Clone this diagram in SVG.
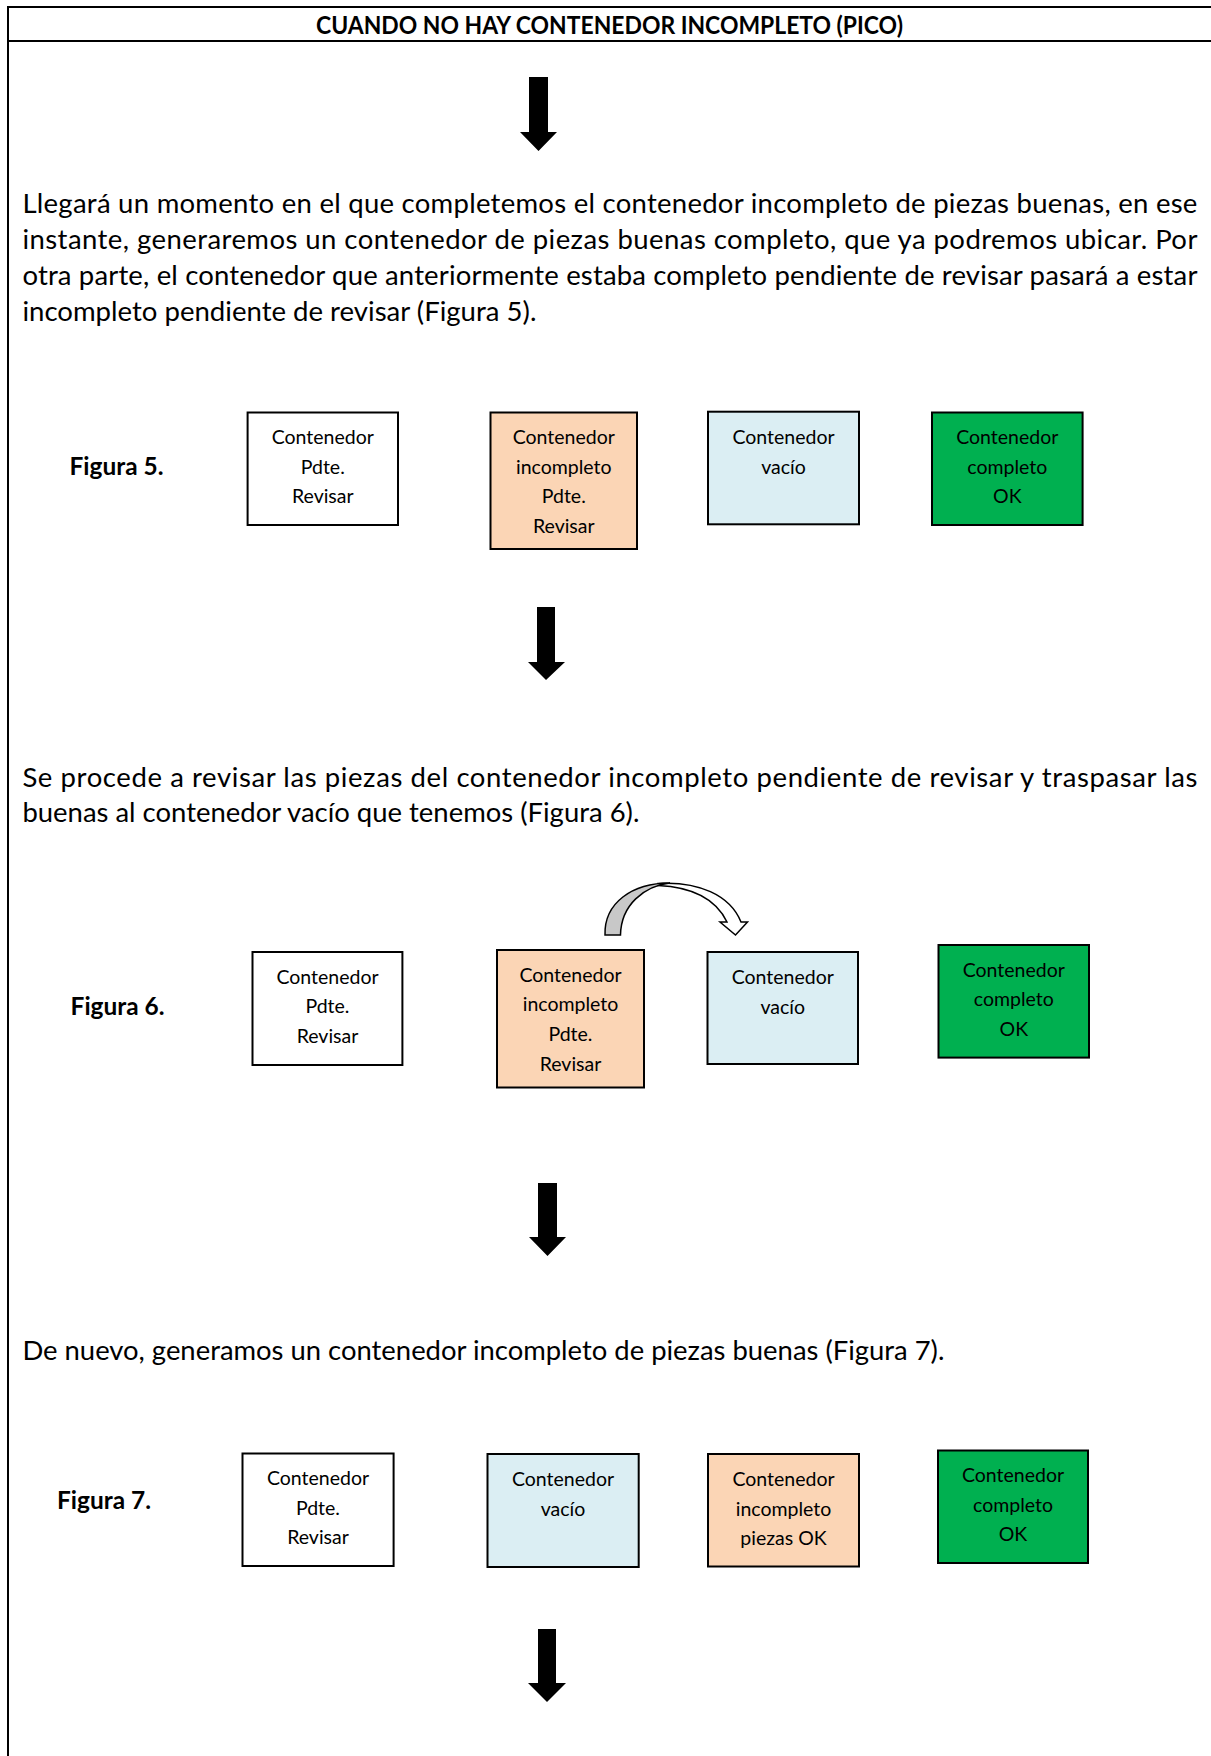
<svg xmlns="http://www.w3.org/2000/svg" width="1211" height="1756" viewBox="0 0 1211 1756">
  <style>
    .frame { stroke: #000; stroke-width: 2; fill: none; }
    .title { font-family: Lato, 'Liberation Sans', sans-serif; font-weight: bold; font-size: 25px; fill: #000; }
    .body { font-family: Lato, 'Liberation Sans', sans-serif; font-size: 27.5px; fill: #000; }
    .fig { font-family: Lato, 'Liberation Sans', sans-serif; font-weight: bold; font-size: 25px; fill: #000; }
    .box { stroke: #000; stroke-width: 2; }
    .lbl { font-family: Lato, 'Liberation Sans', sans-serif; font-size: 19.5px; fill: #000; text-anchor: middle; }
    .white { fill: #ffffff; }
    .peach { fill: #fbd5b5; }
    .blue { fill: #dbeef3; }
    .green { fill: #00b050; }
    .blk { fill: #000; }
  </style>

  <!-- page frame and header -->
  <g id="frame">
    <line class="frame" x1="8" y1="7" x2="1211" y2="7"/>
    <line class="frame" x1="8" y1="41" x2="1211" y2="41"/>
    <line class="frame" x1="8" y1="6" x2="8" y2="1756"/>
    <text class="title" x="316" y="34" textLength="587" lengthAdjust="spacingAndGlyphs">CUANDO NO HAY CONTENEDOR INCOMPLETO (PICO)</text>
  </g>

  <!-- explanatory paragraphs -->
  <g id="text-1" class="body">
    <text x="22.4" y="213" textLength="1175" lengthAdjust="spacing">Llegará un momento en el que completemos el contenedor incompleto de piezas buenas, en ese</text>
    <text x="22.4" y="248.8" textLength="1175" lengthAdjust="spacing">instante, generaremos un contenedor de piezas buenas completo, que ya podremos ubicar. Por</text>
    <text x="22.4" y="284.6" textLength="1175" lengthAdjust="spacing">otra parte, el contenedor que anteriormente estaba completo pendiente de revisar pasará a estar</text>
    <text x="22.4" y="320.5" textLength="514" lengthAdjust="spacingAndGlyphs">incompleto pendiente de revisar (Figura 5).</text>
  </g>
  <g id="text-2" class="body">
    <text x="22.4" y="786.5" textLength="1175" lengthAdjust="spacing">Se procede a revisar las piezas del contenedor incompleto pendiente de revisar y traspasar las</text>
    <text x="22.4" y="822.3" textLength="617" lengthAdjust="spacingAndGlyphs">buenas al contenedor vacío que tenemos (Figura 6).</text>
  </g>
  <g id="text-3" class="body">
    <text x="22.4" y="1360.2" textLength="922" lengthAdjust="spacingAndGlyphs">De nuevo, generamos un contenedor incompleto de piezas buenas (Figura 7).</text>
  </g>

  <!-- Figura 5 -->
  <g id="fig5-label"><text class="fig" x="69.5" y="475" textLength="94" lengthAdjust="spacingAndGlyphs">Figura 5.</text></g>
  <g id="fig5-pdte">
    <rect class="box white" x="247.6" y="412.5" width="150.4" height="112.5"/>
    <text class="lbl" x="322.8" y="444">Contenedor</text>
    <text class="lbl" x="322.8" y="473.7">Pdte.</text>
    <text class="lbl" x="322.8" y="503.4">Revisar</text>
  </g>
  <g id="fig5-incompleto">
    <rect class="box peach" x="490.5" y="412.5" width="146.5" height="136.5"/>
    <text class="lbl" x="563.8" y="444">Contenedor</text>
    <text class="lbl" x="563.8" y="473.7">incompleto</text>
    <text class="lbl" x="563.8" y="503.4">Pdte.</text>
    <text class="lbl" x="563.8" y="533">Revisar</text>
  </g>
  <g id="fig5-vacio">
    <rect class="box blue" x="708" y="411.7" width="151" height="112.6"/>
    <text class="lbl" x="783.5" y="444">Contenedor</text>
    <text class="lbl" x="783.5" y="473.7">vacío</text>
  </g>
  <g id="fig5-ok">
    <rect class="box green" x="932" y="412.5" width="150.6" height="112.5"/>
    <text class="lbl" x="1007.3" y="444">Contenedor</text>
    <text class="lbl" x="1007.3" y="473.7">completo</text>
    <text class="lbl" x="1007.3" y="503.4">OK</text>
  </g>

  <!-- Figura 6 -->
  <g id="fig6-label"><text class="fig" x="70.6" y="1015" textLength="94" lengthAdjust="spacingAndGlyphs">Figura 6.</text></g>
  <g id="fig6-pdte">
    <rect class="box white" x="252.5" y="952" width="149.9" height="113"/>
    <text class="lbl" x="327.5" y="983.5">Contenedor</text>
    <text class="lbl" x="327.5" y="1013.2">Pdte.</text>
    <text class="lbl" x="327.5" y="1042.9">Revisar</text>
  </g>
  <g id="fig6-incompleto">
    <rect class="box peach" x="497" y="950" width="147" height="137.5"/>
    <text class="lbl" x="570.5" y="981.5">Contenedor</text>
    <text class="lbl" x="570.5" y="1011.2">incompleto</text>
    <text class="lbl" x="570.5" y="1040.9">Pdte.</text>
    <text class="lbl" x="570.5" y="1070.6">Revisar</text>
  </g>
  <g id="fig6-vacio">
    <rect class="box blue" x="707.5" y="952" width="150.5" height="112"/>
    <text class="lbl" x="782.8" y="984">Contenedor</text>
    <text class="lbl" x="782.8" y="1013.7">vacío</text>
  </g>
  <g id="fig6-ok">
    <rect class="box green" x="938.5" y="945" width="150.5" height="112.6"/>
    <text class="lbl" x="1013.8" y="976.5">Contenedor</text>
    <text class="lbl" x="1013.8" y="1006.2">completo</text>
    <text class="lbl" x="1013.8" y="1035.9">OK</text>
  </g>

  <!-- Figura 7 -->
  <g id="fig7-label"><text class="fig" x="57" y="1509" textLength="94" lengthAdjust="spacingAndGlyphs">Figura 7.</text></g>
  <g id="fig7-pdte">
    <rect class="box white" x="242.5" y="1453.5" width="151.1" height="112.5"/>
    <text class="lbl" x="318" y="1485">Contenedor</text>
    <text class="lbl" x="318" y="1514.7">Pdte.</text>
    <text class="lbl" x="318" y="1544.4">Revisar</text>
  </g>
  <g id="fig7-vacio">
    <rect class="box blue" x="487.5" y="1454" width="151.2" height="113"/>
    <text class="lbl" x="563" y="1486">Contenedor</text>
    <text class="lbl" x="563" y="1515.7">vacío</text>
  </g>
  <g id="fig7-incompleto">
    <rect class="box peach" x="708" y="1454" width="151" height="112.5"/>
    <text class="lbl" x="783.5" y="1486">Contenedor</text>
    <text class="lbl" x="783.5" y="1515.7">incompleto</text>
    <text class="lbl" x="783.5" y="1545.4">piezas OK</text>
  </g>
  <g id="fig7-ok">
    <rect class="box green" x="938" y="1450.5" width="150" height="112.5"/>
    <text class="lbl" x="1013" y="1482">Contenedor</text>
    <text class="lbl" x="1013" y="1511.7">completo</text>
    <text class="lbl" x="1013" y="1541.4">OK</text>
  </g>

  <!-- connectors: block arrows between steps and the transfer arrow -->
  <g id="connectors">
    <path class="blk" d="M529,77 H548 V132 H557 L538.5,151 L520,132 H529 Z"/>
    <path class="blk" d="M537,607 H555 V662 H565 L546,680 L528,662 H537 Z"/>
    <path class="blk" d="M538,1183 H557 V1237 H566 L547.5,1256 L529,1237 H538 Z"/>
    <path class="blk" d="M538,1629 H556 V1683 H566 L547,1702 L528,1683 H538 Z"/>
    <!-- curved transfer arrow: white front band with head, grey back band -->
    <path d="M658,883.5 C698,881 730,895 741,922 L747.5,922 L735.5,935 L720,922 L727,922 C716,899 692,887 658,885.5 Z" fill="#ffffff" stroke="#000" stroke-width="1.5" stroke-linejoin="miter"/>
    <path d="M605,935 C604,903 632,883 670,883 C644,886 621,905 620.5,935 Z" fill="#c8c8c8" stroke="#000" stroke-width="1.5"/>
  </g>
</svg>
